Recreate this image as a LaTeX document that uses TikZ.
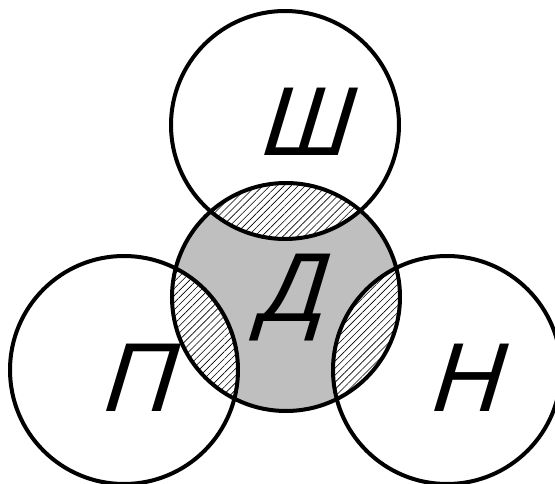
\documentclass[tikz,border=0pt]{standalone}
\usepackage{fontspec}
\newfontfamily\lettr{Liberation Sans}[FakeSlant=0.3]
\usetikzlibrary{patterns.meta}
\tikzset{ring/.style={circle,draw,line width=4pt,minimum size=228pt,inner sep=0pt},
  letter/.style={font=\lettr\fontsize{98}{98}\selectfont},
  hatch/.style={pattern={Lines[angle=45,distance=5pt,line width=0.6pt]}}}
\begin{document}
\begin{tikzpicture}[x=1pt,y=-1pt]
\useasboundingbox (0,0) rectangle (555,484);
% middle set
\fill[black!25] (286,297) circle (114pt);
\begin{scope}
\clip (286,297) circle (114pt);
\fill[white] (285,125) circle (114pt);
\fill[white] (124,370) circle (114pt);
\fill[white] (447,370) circle (114pt);
\fill[hatch] (285,125) circle (114pt);
\fill[hatch] (124,370) circle (114pt);
\fill[hatch] (447,370) circle (114pt);
\end{scope}
\node[ring] (sh) at (285,125) {};
\node[ring] (p) at (124,370) {};
\node[ring] (n) at (447,370) {};
\node[ring] (d) at (286,297) {};
% letters
\node[letter] (tsh) at (301,122) {Ш};
\node[letter] (td) at (288,298) {Д};
\node[letter] (tp) at (134,378) {П};
\node[letter] (tn) at (462,378) {Н};
\end{tikzpicture}
\end{document}
